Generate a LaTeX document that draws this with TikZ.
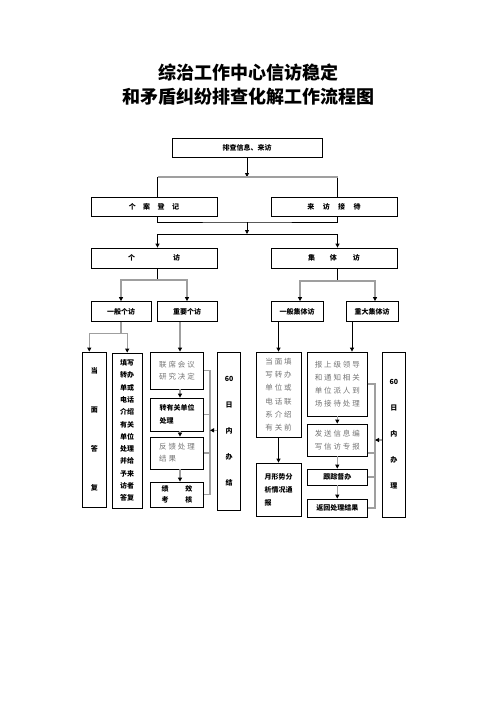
\documentclass[tikz,border=0pt]{standalone}
\usepackage{fontspec}
\newfontfamily\hei{Noto Sans CJK SC}
\newfontfamily\heisp[LetterSpace=25]{Noto Sans CJK SC}
\usetikzlibrary{arrows.meta}
\tikzset{
  box/.style={draw,line width=0.8pt,inner sep=0pt,align=center,font=\hei\bfseries\fontsize{7}{#1}\selectfont},
  box/.default=12,
  note/.style={box,align=left,text=black!55,font=\heisp\fontsize{7.5}{#1}\selectfont},
  note/.default=12,
  wh/.style 2 args={minimum width=#1pt,minimum height=#2pt},
  link/.style={line width=0.8pt},
  branch/.style={draw=gray!75,line width=1.3pt},
}
\begin{document}
\begin{tikzpicture}[x=1pt,y=-1pt,>={Triangle[length=4pt,width=4pt,color=black]}]
\useasboundingbox (0,0) rectangle (496,702);
\node[font=\hei\bfseries\fontsize{18}{24}\selectfont,align=center] (head) at (248,84.5) {综治工作中心信访稳定\\和矛盾纠纷排查化解工作流程图};
% upper rows
\node[box,wh={150}{19}] (src) at (247,147.5) {排查信息、来访};
\node[box,wh={126}{19}] (reg) at (154,206.5) {个\hspace{7.5pt}案\hspace{7.5pt}登\hspace{7.5pt}记};
\node[box,wh={126}{19}] (recv) at (334,206.5) {来\hspace{8.5pt}访\hspace{8.5pt}接\hspace{8.5pt}待};
\node[box,wh={126}{20}] (indiv) at (154,258) {个\hspace{38pt}访};
\node[box,wh={126}{20}] (group) at (334,258) {集\hspace{15pt}体\hspace{16pt}访};
% single visits
\node[box,wh={60}{20}] (gen) at (121,311.5) {一般个访};
\node[box,wh={60}{20}] (imp) at (187,311.5) {重要个访};
\node[box=39,wh={23.5}{155}] (face) at (94.3,429.5) {当\\面\\答\\复};
\node[box=12.3,wh={29.7}{155}] (fill) at (127.2,430.5) {填写\\转办\\单或\\电话\\介绍\\有关\\单位\\处理\\并给\\予来\\访者\\答复};
\node[note=11.7,wh={53}{37}] (meet) at (177,370.5) {联席会议\\研究决定};
\node[box=13,wh={53}{33},align=left] (trans) at (177,414.5) {转有关单位\\处理};
\node[note,wh={53}{32}] (feed) at (177,453) {反馈处理\\结果};
\node[box=11.5,wh={53}{25}] (eval) at (177,494.5) {绩\hspace{17pt}效\\考\hspace{17pt}核};
\node[box=26,wh={23}{158.7}] (day1) at (229.2,431.3) {60\\日\\内\\办\\结};
% group visits
\node[box,wh={52}{20}] (ggen) at (297,311.5) {一般集体访};
\node[box,wh={52}{20}] (gbig) at (372,311.5) {重大集体访};
\node[note=13.3,wh={45}{85}] (gface) at (278.5,394.5) {当面填\\写转办\\单位或\\电话联\\系介绍\\有关前};
\node[box=13,wh={45}{53},align=left] (month) at (278.5,489.5) {月形势分\\析情况通\\报};
\node[note=13,wh={60}{64}] (report) at (337.3,384) {报上级领导\\和通知相关\\单位派人到\\场接待处理};
\node[note=12.7,wh={60}{32}] (send) at (337.3,440) {发送信息编\\写信访专报};
\node[box,wh={60}{16}] (track) at (337.3,477) {跟踪督办};
\node[box,wh={60}{18}] (back) at (337.3,508) {返回处理结果};
\node[box=26,wh={22.3}{165}] (day2) at (393.9,434.5) {60\\日\\内\\办\\理};
% connectors, top
\coordinate (r1) at (157.5,0);
\coordinate (r2) at (337.5,0);
\coordinate (j1) at (247,177);
\coordinate (j2) at (247,222);
\coordinate (j3) at (247,234);
\draw[link,->] (src) -- (j1);
\draw[link] (reg.north -| r1) |- (j1) -| (recv.north -| r2);
\draw[branch] (j1 -| r1) -- (j1 -| r2);
\draw[link] (reg.south -| r1) |- (j2) -| (recv.south -| r2);
\draw[link,->] (j2) -- (j3);
\draw[link,->] (j3) -| (indiv.north -| r1);
\draw[link,->] (j3) -| (group.north -| r2);
% single visits
\coordinate (j4) at (157.5,280);
\coordinate (j6) at (121,333.5);
\coordinate (c1) at (180,0);
\coordinate (k1) at (210,0);
\coordinate (a1) at ([yshift=1pt]day1.west);
\draw[link] (indiv.south -| r1) -- (j4);
\draw[branch,->] (j4) -| (gen.north);
\draw[branch,->] (j4) -| (imp.north);
\draw[branch] (gen.south) -- (j6);
\draw[branch,->] (j6) -| ([xshift=-5pt]face.north);
\draw[branch,->] (j6) -| (fill.north);
\draw[branch,->] (imp.south -| c1) -- (meet.north -| c1);
\draw[branch,->] (meet.south -| c1) -- (trans.north -| c1);
\draw[branch,->] (trans.south -| c1) -- (feed.north -| c1);
\draw[branch,->] (feed.south -| c1) -- (eval.north -| c1);
\draw[branch] (meet.east) -- (meet.east -| k1) -- (eval.east -| k1) -- (eval.east);
\draw[branch] (trans.east) -- (trans.east -| k1);
\draw[branch] (feed.east) -- (feed.east -| k1);
\draw[branch,->] (a1) -- (a1 -| k1);
% group visits
\coordinate (j5) at (337.5,281);
\coordinate (c2) at (352,0);
\coordinate (k2) at (375,0);
\coordinate (t2) at ([yshift=-13pt]send.east);
\coordinate (a2) at ([yshift=-5.5pt]day2.west);
\draw[link] (group.south -| r2) -- (j5);
\draw[branch,->] (j5) -| ([xshift=3pt]ggen.north);
\draw[branch,->] (j5) -| ([xshift=3pt]gbig.north);
\draw[link,->] (ggen.south -| gface.north) -- (gface.north);
\draw[link,->] (gface.south) -- (month.north);
\draw[link,->] (gbig.south -| c2) -- (report.north -| c2);
\draw[branch,->] (report.south) -- (send.north);
\draw[branch,->] (send.south) -- (track.north);
\draw[branch,->] (track.south) -- (back.north);
\draw[branch] (report.east) -- (report.east -| k2) -- (back.east -| k2) -- (back.east);
\draw[branch] (t2) -- (t2 -| k2);
\draw[branch] (track.east) -- (track.east -| k2);
\draw[branch,->] (a2) -- (a2 -| k2);
\end{tikzpicture}
\end{document}
